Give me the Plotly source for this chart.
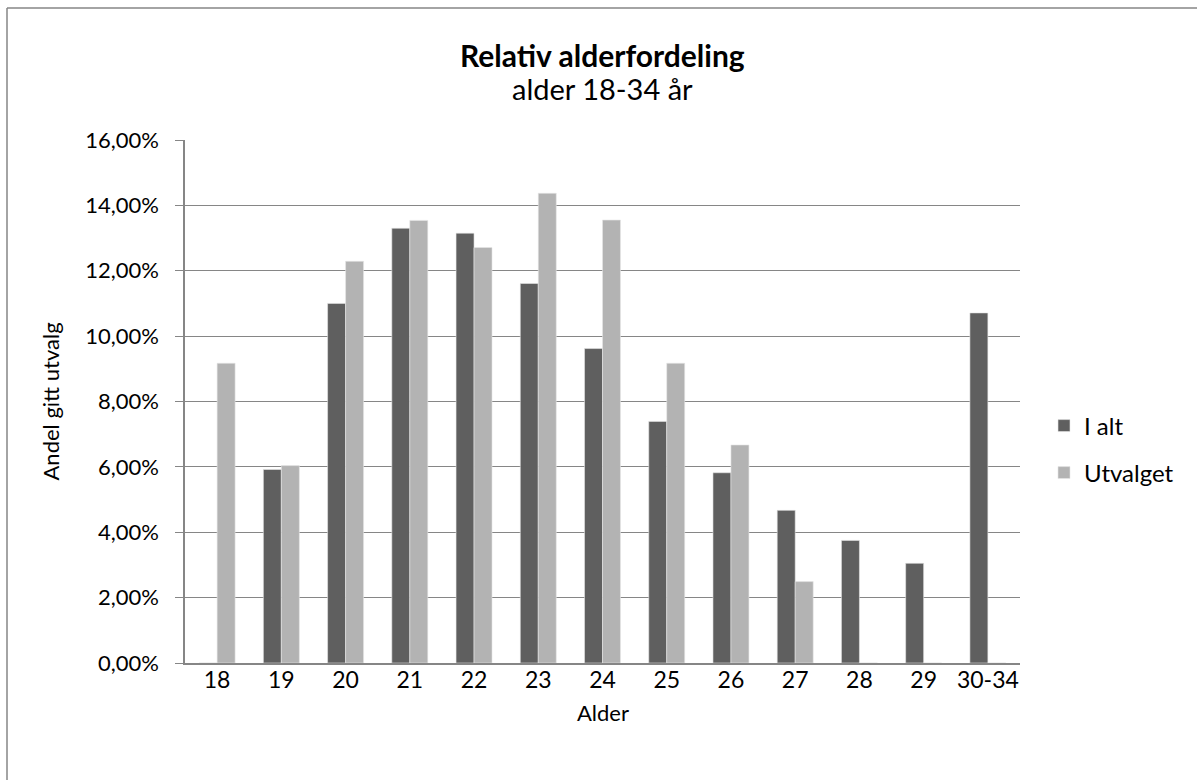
import plotly.graph_objects as go

# Age groups and the share of each group
ages = ["18", "19", "20", "21", "22", "23", "24", "25", "26", "27", "28", "29", "30-34"]
i_alt = [0.0, 0.0592, 0.1100, 0.1330, 0.1315, 0.1161, 0.0962, 0.0739, 0.0582, 0.0467, 0.0375, 0.0305, 0.1071]
utvalget = [0.0917, 0.0604, 0.1229, 0.1354, 0.1271, 0.1437, 0.1355, 0.0917, 0.0667, 0.0249, 0.0, 0.0, 0.0]

series_names = ["I alt", "Utvalget"]
series_colors = ["#5f5f5f", "#b3b3b3"]
y_ticks = [0, 0.02, 0.04, 0.06, 0.08, 0.10, 0.12, 0.14, 0.16]

FONT = "Lato, Calibri, Carlito, sans-serif"
FS = 22

fig = go.Figure()
for name, vals, color, leg in zip(series_names, [i_alt, utvalget], series_colors, ["legend", "legend2"]):
    fig.add_trace(go.Bar(
        x=ages, y=vals, name=name, legend=leg, showlegend=True,
        marker=dict(color=color, line=dict(color="#e6e6e6", width=0.6)),
    ))

# Plot-area geometry in pixels (used for text and frame lines outside the axes)
W, H = 1197, 780
L, R, T, B = 185, 177, 140, 117
pw, ph = W - L - R, H - T - B

def px_x(x):
    return (x - L) / pw

def px_y(y):
    return (H - B - y) / ph

annotations = [
    dict(text="<b>Relativ alderfordeling</b>", x=0.5, y=px_y(55), xref="paper", yref="paper",
         xanchor="center", yanchor="middle", showarrow=False,
         font=dict(family=FONT, size=30, color="#000000")),
    dict(text="alder 18-34 år", x=0.5, y=px_y(89), xref="paper", yref="paper",
         xanchor="center", yanchor="middle", showarrow=False,
         font=dict(family=FONT, size=29, color="#000000")),
    dict(text="Alder", x=0.5, y=px_y(712), xref="paper", yref="paper",
         xanchor="center", yanchor="middle", showarrow=False,
         font=dict(family=FONT, size=FS, color="#000000")),
    dict(text="Andel gitt utvalg", x=px_x(50), y=0.5, xref="paper", yref="paper",
         xanchor="center", yanchor="middle", showarrow=False, textangle=-90,
         font=dict(family=FONT, size=FS, color="#000000")),
]

fig.update_layout(
    width=W, height=H,
    margin=dict(l=L, r=R, t=T, b=B),
    paper_bgcolor="white", plot_bgcolor="white",
    separators=",.",
    font=dict(family=FONT, size=FS, color="#000000"),
    barmode="group", bargap=0.44, bargroupgap=0,
    xaxis=dict(
        showgrid=False, showline=True, linecolor="#868686", linewidth=1.5,
        ticks="", tickfont=dict(size=23), ticklabelstandoff=-4,
    ),
    yaxis=dict(
        range=[0, 0.16], tickvals=y_ticks, tickformat=".2%",
        showgrid=True, gridcolor="#868686", gridwidth=1.3,
        showline=True, linecolor="#868686", linewidth=1.5,
        ticks="outside", ticklen=8, tickcolor="#868686", tickwidth=1.3,
        tickfont=dict(size=FS), zeroline=False, ticklabelstandoff=12,
    ),
    legend=dict(x=px_x(1044), y=px_y(426), xanchor="left", yanchor="middle",
                font=dict(size=24), bgcolor="rgba(0,0,0,0)"),
    legend2=dict(x=px_x(1044), y=px_y(473), xanchor="left", yanchor="middle",
                 font=dict(size=24), bgcolor="rgba(0,0,0,0)"),
    annotations=annotations,
    shapes=[
        dict(type="line", xref="paper", yref="paper",
             x0=px_x(7), x1=px_x(1197), y0=px_y(8), y1=px_y(8),
             line=dict(color="#868686", width=1.5)),
        dict(type="line", xref="paper", yref="paper",
             x0=px_x(7), x1=px_x(7), y0=px_y(8), y1=px_y(780),
             line=dict(color="#868686", width=1.5)),
    ],
)

fig.write_html("out.html")
